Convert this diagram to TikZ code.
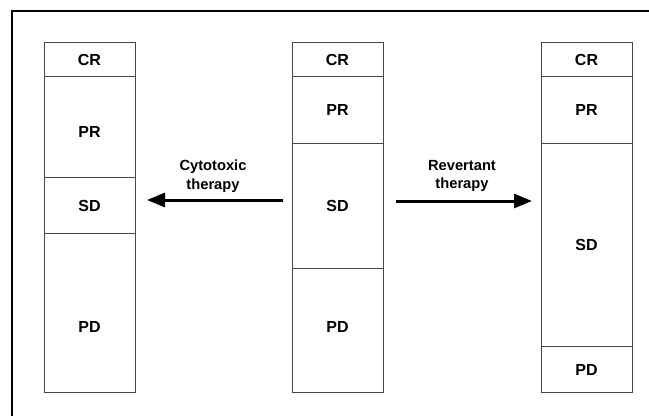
\documentclass[tikz,border=0pt]{standalone}
\usepackage{fontspec}
\setmainfont{Liberation Sans}
\usetikzlibrary{arrows.meta}
\begin{document}
\begin{tikzpicture}[x=1pt,y=-1pt,
  seg/.style={draw=black!72,line width=1pt,fill=white,inner sep=0pt,anchor=north west,
    minimum width=91pt,font=\fontsize{16}{18}\selectfont\bfseries},
  therapyarrow/.style={line width=3pt,-{Triangle[length=18pt,width=14pt]}},
  arrowlabel/.style={align=center,font=\fontsize{14.7}{18.5}\selectfont\bfseries,inner sep=0pt}]
\useasboundingbox (0,0) rectangle (649,416);
% frame (only top and left edges visible)
\draw[line width=1.2pt] (12,416) -- (12,11) -- (649,11);
% left column
\node[seg,minimum height=34pt]  (LCR) at (43.5,42)  {CR};
\node[seg,minimum height=101pt,text height=20.5pt] (LPR) at (43.5,76)  {PR};
\node[seg,minimum height=56pt]  (LSD) at (43.5,177) {SD};
\node[seg,minimum height=159pt,text height=39.5pt] (LPD) at (43.5,233) {PD};
% middle column
\node[seg,minimum height=34pt]  (MCR) at (291.5,42)  {CR};
\node[seg,minimum height=67pt]  (MPR) at (291.5,76)  {PR};
\node[seg,minimum height=125pt] (MSD) at (291.5,143) {SD};
\node[seg,minimum height=124pt,text depth=8pt] (MPD) at (291.5,268) {PD};
% right column
\node[seg,minimum height=34pt]  (RCR) at (540.5,42)  {CR};
\node[seg,minimum height=67pt]  (RPR) at (540.5,76)  {PR};
\node[seg,minimum height=203pt] (RSD) at (540.5,143) {SD};
\node[seg,minimum height=46pt]  (RPD) at (540.5,346) {PD};
% arrows
\coordinate (cytStart) at (283,200);
\coordinate (cytEnd) at (147,200);
\coordinate (revStart) at (396,201);
\coordinate (revEnd) at (532,201);
\draw[therapyarrow] (cytStart) -- (cytEnd);
\draw[therapyarrow] (revStart) -- (revEnd);
\node[arrowlabel] (cytLabel) at (213,176) {Cytotoxic\\therapy};
\node[arrowlabel] (revLabel) at (462,176) {Revertant\\therapy};
\end{tikzpicture}
\end{document}
